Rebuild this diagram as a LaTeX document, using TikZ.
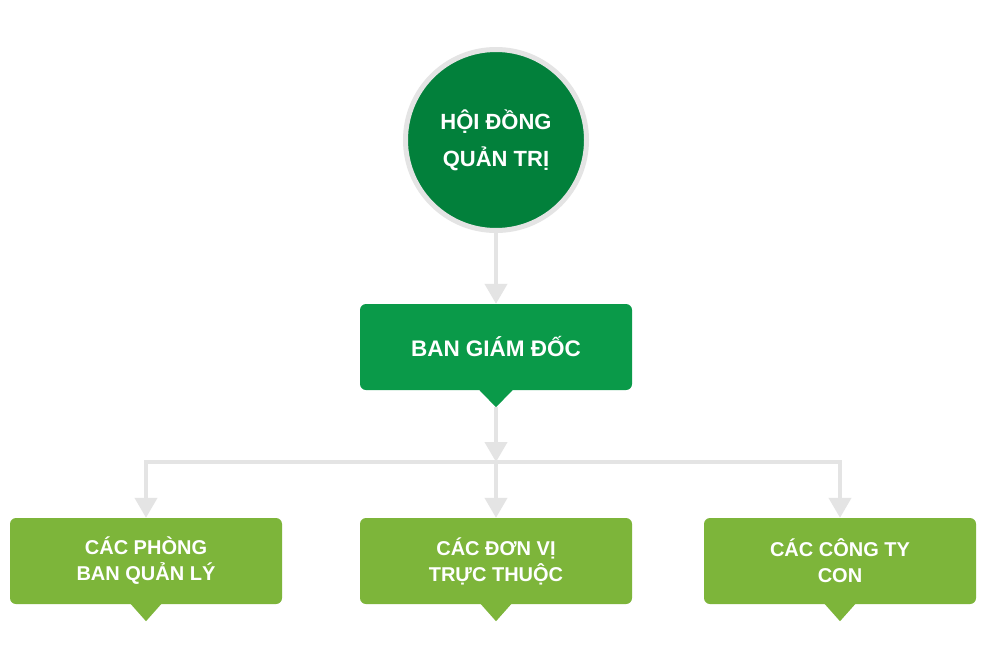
\documentclass[tikz,border=0pt]{standalone}
\usepackage{fontspec}
\setmainfont{Liberation Sans}
\usetikzlibrary{arrows.meta,calc}
\definecolor{dkgreen}{HTML}{02803B}
\definecolor{mdgreen}{HTML}{0A9A49}
\definecolor{ltgreen}{HTML}{7DB53A}
\definecolor{linegray}{HTML}{E4E4E4}
\begin{document}
\begin{tikzpicture}[x=1pt,y=-1pt,
  circtext/.style={font=\fontsize{22}{37}\selectfont\bfseries, text=white, align=center},
  boxtext/.style={font=\fontsize{20}{26}\selectfont\bfseries, text=white, align=center},
  orgbox/.style={rectangle, rounded corners=6pt, minimum width=272pt, minimum height=86pt, inner sep=0pt, boxtext},
  conn/.style={draw=linegray, line width=4pt, -{Triangle[width=22pt,length=20pt]}}
]
\useasboundingbox (0,0) rectangle (990,670);
\fill[white] (0,0) rectangle (990,670);

\node[circle, fill=dkgreen, draw=linegray, line width=5pt, minimum size=181pt, inner sep=0pt, circtext] (hdqt) at (496,140) {HỘI ĐỒNG\\QUẢN TRỊ};

\node[orgbox, fill=mdgreen, font=\fontsize{22.5}{26}\selectfont\bfseries] (bgd) at (496,347) {BAN GIÁM ĐỐC};
\fill[mdgreen] ($(bgd.south)+(-17.5,-1)$) -- ($(bgd.south)+(17.5,-1)$) -- ($(bgd.south)+(0,17)$) -- cycle;

\node[orgbox, fill=ltgreen] (pb) at (146,561) {CÁC PHÒNG\\BAN QUẢN LÝ};
\node[orgbox, fill=ltgreen] (dv) at (496,561) {CÁC ĐƠN VỊ\\TRỰC THUỘC};
\node[orgbox, fill=ltgreen] (ct) at (840,561) {CÁC CÔNG TY\\CON};
\foreach \b in {pb,dv,ct}{
  \fill[ltgreen] ($(\b.south)+(-16,-1)$) -- ($(\b.south)+(16,-1)$) -- ($(\b.south)+(0,17)$) -- cycle;
}

\coordinate (bgdtip) at ($(bgd.south)+(0,17)$);
\coordinate (jn) at (496,462);

\draw[conn] (hdqt.south) -- (bgd.north);
\draw[conn] (bgdtip) -- (jn);
\draw[conn] (jn) -- (dv.north);
\draw[conn] (jn) -| (pb.north);
\draw[conn] (jn) -| (ct.north);
\end{tikzpicture}
\end{document}
